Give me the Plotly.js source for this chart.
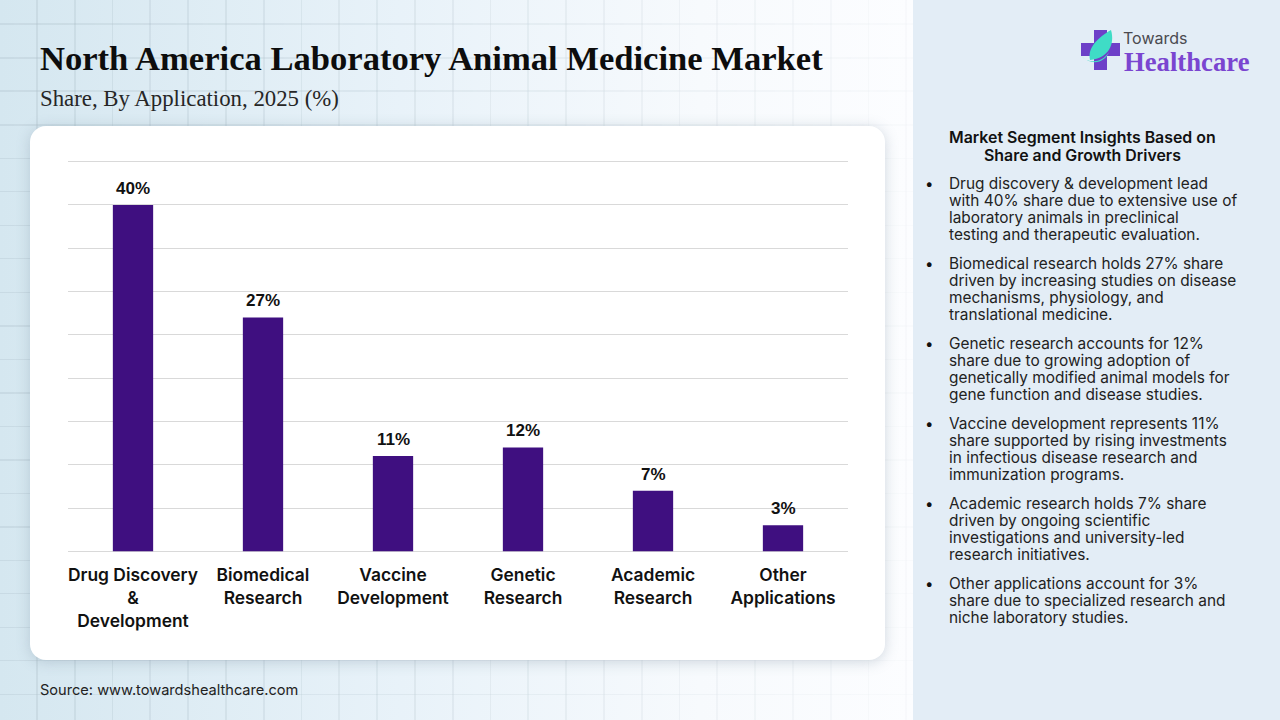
<!DOCTYPE html>
<html><head><meta charset="utf-8">
<script src="https://cdn.plot.ly/plotly-3.0.1.min.js"></script>
<style>
html,body{margin:0;padding:0;width:1280px;height:720px;overflow:hidden}
#bg{position:absolute;left:0;top:0;width:1280px;height:720px;background:linear-gradient(90deg,#d5e7f0 0px,#e8f2f9 400px,#f7fafd 700px,#fcfdff 913px)}
#grid{position:absolute;left:0;top:0;width:913px;height:720px;
background-image:repeating-linear-gradient(90deg,transparent 0,transparent 36px,rgba(150,170,180,.2) 36px,rgba(150,170,180,.2) 37.8px),repeating-linear-gradient(180deg,transparent 0,transparent 23.5px,rgba(150,170,180,.2) 23.5px,rgba(150,170,180,.2) 25px,transparent 25px,transparent 33.5px);
-webkit-mask-image:linear-gradient(90deg,#000 0%,rgba(0,0,0,.7) 45%,rgba(0,0,0,.18) 100%)}
#panel{position:absolute;left:913px;top:0;width:367px;height:720px;background:#e3edf6}
#card{position:absolute;left:30px;top:126px;width:855px;height:534px;background:#fff;border-radius:16px;box-shadow:0 2px 14px rgba(110,130,150,.3)}
#logo{position:absolute;left:1080px;top:29px}
#chart{position:absolute;left:0;top:0;width:1280px;height:720px}
</style></head><body>
<div id="bg"></div><div id="grid"></div><div id="panel"></div><div id="card"></div>
<svg id="logo" width="44" height="44" viewBox="0 0 44 44">
<path d="M14 1h13v13h13v13h-13v14h-13v-14h-13v-13h13z" fill="#6d3fc8"/>
<path d="M10 31C7 18 19 8 31 1c4 14-2 28-21 30z" fill="#3fdcc6"/>
<path d="M1 27c8 8 21 7 28-4-4 10-16 15-28 4z" fill="#3fdcc6"/>
</svg>
<div id="chart"></div>
<script>
const categories=["Drug Discovery & Development","Biomedical Research","Vaccine Development","Genetic Research","Academic Research","Other Applications"];
const tickLabels=["Drug Discovery<br>&<br>Development","Biomedical<br>Research","Vaccine<br>Development","Genetic<br>Research","Academic<br>Research","Other<br>Applications"];
const values=[40,27,11,12,7,3];
const titleText="North America Laboratory Animal Medicine Market";
const subtitleText="Share, By Application, 2025 (%)";
const sourceText="Source: www.towardshealthcare.com";
const panelHeading=["Market Segment Insights Based on","Share and Growth Drivers"];
const bulletLines=[
["Drug discovery & development lead","with 40% share due to extensive use of","laboratory animals in preclinical","testing and therapeutic evaluation."],
["Biomedical research holds 27% share","driven by increasing studies on disease","mechanisms, physiology, and","translational medicine."],
["Genetic research accounts for 12%","share due to growing adoption of","genetically modified animal models for","gene function and disease studies."],
["Vaccine development represents 11%","share supported by rising investments","in infectious disease research and","immunization programs."],
["Academic research holds 7% share","driven by ongoing scientific","investigations and university-led","research initiatives."],
["Other applications account for 3%","share due to specialized research and","niche laboratory studies."]];
const bulletTops=[183.9,263.9,343.9,423.9,503.9,583.9];
const lineOffsets=[0,17,34,51];

const W=1280,H=720;
const SIDE="Inter, 'Noto Sans', sans-serif";
const SERIF="'Liberation Serif', serif";
function txt(text,px,py,size,color,o={}){
  return Object.assign({text,xref:'paper',yref:'paper',
    x:(px-68)/780,y:(552-py)/393,xanchor:'left',yanchor:'middle',showarrow:false,
    font:{family:SIDE,size,color},borderpad:0},o);
}
const ann=[];
values.forEach((v,i)=>ann.push({x:categories[i],y:v,xref:'x',yref:'y',text:v+'%',showarrow:false,
  yanchor:'bottom',yshift:5,font:{family:"'Liberation Sans',Arial,sans-serif",size:17,color:'#111',weight:700}}));
ann.push(txt(titleText,39,58.5,34.6,'#0d0d0d',{font:{family:SERIF,size:34.6,color:'#0d0d0d',weight:700}}));
ann.push(txt(subtitleText,39,99,22.8,'#262626',{font:{family:SERIF,size:22.8,color:'#262626'}}));
ann.push(txt(sourceText,39,689.5,14.6,'#222'));
ann.push(txt("Towards",1122,38,16,'#4a4a4f'));
ann.push(txt("Healthcare",1123,62,26.7,'#7a45d0',{font:{family:SERIF,size:26.7,color:'#7a45d0',weight:700}}));
panelHeading.forEach((t,i)=>ann.push(txt(t,1082.5,137.4+i*18,15.9,'#111',{xanchor:'center',font:{family:SIDE,size:15.9,color:'#111',weight:600}})));
bulletLines.forEach((lines,k)=>{
  ann.push(txt("•",924,bulletTops[k],15,'#111'));
  lines.forEach((t,i)=>ann.push(txt(t,948,bulletTops[k]+lineOffsets[i],15.4,'#222')));
});
Plotly.newPlot('chart',[{type:'bar',x:categories,y:values,width:0.31,marker:{color:'#3f0f80'},hoverinfo:'skip'}],{
  width:W,height:H,margin:{l:68,r:432,t:159,b:168,pad:0},
  paper_bgcolor:'rgba(0,0,0,0)',plot_bgcolor:'rgba(0,0,0,0)',showlegend:false,
  xaxis:{tickmode:'array',tickvals:categories,ticktext:tickLabels,tickangle:0,ticks:'',showgrid:false,
    showline:false,zeroline:false,automargin:false,ticklabelstandoff:11,
    tickfont:{family:SIDE,size:17.4,color:'#111',weight:600}},
  yaxis:{range:[-0.08,45.3],tick0:0,dtick:5,showticklabels:false,ticks:'',gridcolor:'#d9d9d9',gridwidth:1,
    zeroline:true,zerolinecolor:'#d9d9d9',zerolinewidth:1,showline:false,automargin:false},
  annotations:ann
},{displayModeBar:false,staticPlot:true});
</script></body></html>
